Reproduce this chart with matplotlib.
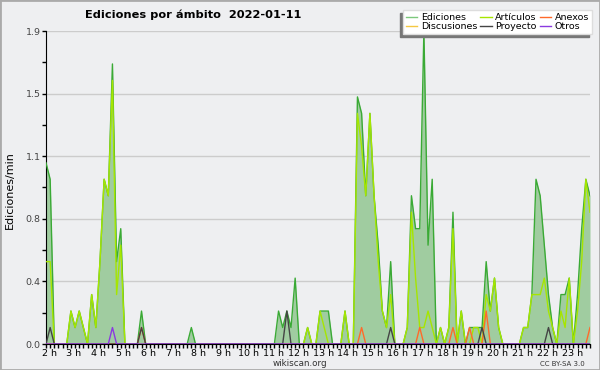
import numpy as np
import matplotlib
matplotlib.use("Agg")
import matplotlib.pyplot as plt
import matplotlib.transforms as mtransforms
from matplotlib.lines import Line2D
from matplotlib.patches import Rectangle

# Ediciones por minuto, tramos de 10 minutos desde las 2:00 hasta las 23:50
ediciones = [
    1.1, 1.0, 0, 0, 0, 0, 0.2, 0.1, 0.2, 0.1, 0, 0.3,
    0.1, 0.5, 1.0, 0.9, 1.7, 0.5, 0.7, 0, 0, 0, 0, 0.2,
    0, 0, 0, 0, 0, 0, 0, 0, 0, 0, 0, 0.1,
    0, 0, 0, 0, 0, 0, 0, 0, 0, 0, 0, 0,
    0, 0, 0, 0, 0, 0, 0, 0, 0.2, 0.1, 0.2, 0.1,
    0.4, 0, 0, 0.1, 0, 0, 0.2, 0.2, 0.2, 0, 0, 0,
    0.2, 0, 0, 1.5, 1.4, 0.9, 1.4, 0.9, 0.6, 0.2, 0.1, 0.5,
    0, 0, 0, 0.1, 0.9, 0.7, 0.7, 1.9, 0.6, 1.0, 0, 0.1,
    0, 0.1, 0.8, 0, 0.2, 0, 0.1, 0.1, 0.1, 0.1, 0.5, 0.2,
    0.4, 0.1, 0, 0, 0, 0, 0, 0.1, 0.1, 0.3, 1.0, 0.9,
    0.6, 0.3, 0.1, 0, 0.3, 0.3, 0.4, 0, 0.3, 0.7, 1.0, 0.9,
]
articulos = [
    0.5, 0.5, 0, 0, 0, 0, 0.2, 0.1, 0.2, 0.1, 0, 0.3,
    0.1, 0.5, 1.0, 0.9, 1.6, 0.3, 0.6, 0, 0, 0, 0, 0,
    0, 0, 0, 0, 0, 0, 0, 0, 0, 0, 0, 0,
    0, 0, 0, 0, 0, 0, 0, 0, 0, 0, 0, 0,
    0, 0, 0, 0, 0, 0, 0, 0, 0, 0, 0, 0,
    0, 0, 0, 0.1, 0, 0, 0.2, 0.1, 0, 0, 0, 0,
    0.2, 0, 0, 1.4, 1.2, 0.9, 1.4, 0.9, 0.5, 0.2, 0.1, 0.3,
    0, 0, 0, 0.1, 0.8, 0.4, 0.1, 0.1, 0.2, 0.1, 0, 0.1,
    0, 0.1, 0.7, 0, 0.2, 0, 0, 0.1, 0.1, 0, 0.3, 0.2,
    0.4, 0.1, 0, 0, 0, 0, 0, 0.1, 0.1, 0.3, 0.3, 0.3,
    0.4, 0.2, 0.1, 0, 0.2, 0.1, 0.4, 0, 0.2, 0.5, 1.0, 0.8,
]
# series casi vacias: tramo -> valor
anexos_tramos = [23, 76, 90, 98, 102, 106, 131]
anexos_vals = [0.1, 0.1, 0.1, 0.1, 0.1, 0.2, 0.1]
proyecto_tramos = [1, 23, 58, 83, 105, 121]
proyecto_vals = [0.1, 0.1, 0.2, 0.1, 0.1, 0.1]
otros_tramos = [16]
otros_vals = [0.1]
discusiones_tramos = []
discusiones_vals = []

ytick_pos = [0, 0.38, 0.76, 1.14, 1.52, 1.9]
ytick_labels = ["0.0", "0.4", "0.8", "1.1", "1.5", "1.9"]
horas = list(range(2, 24))

n = len(ediciones)
t = 2 + np.arange(n) / 6


def serie(tramos, vals):
    s = np.zeros(n)
    s[tramos] = vals
    return s


anexos = serie(anexos_tramos, anexos_vals)
proyecto = serie(proyecto_tramos, proyecto_vals)
otros = serie(otros_tramos, otros_vals)
discusiones = serie(discusiones_tramos, discusiones_vals)

bg = "#eeeff1"
fig = plt.figure(figsize=(6, 3.7), dpi=100, facecolor=bg)
ax = fig.add_axes([46 / 600, 1 - 344 / 370, 544 / 600, 313 / 370])
ax.set_facecolor(bg)

c_ed, c_art, c_dis = "#3aaa35", "#a6e600", "#f5c842"
c_anx, c_pro, c_otr = "#ff6a2a", "#444444", "#8a3ae0"

ax.fill_between(t, ediciones, 0, color="#a0cca0", lw=0, zorder=2)
ax.plot(t, ediciones, color=c_ed, lw=1.0, zorder=3)
ax.plot(t, articulos, color=c_art, lw=1.0, zorder=4)
ax.plot(t, discusiones, color=c_dis, lw=1.0, zorder=4)
ax.plot(t, anexos, color=c_anx, lw=1.0, zorder=5)
ax.plot(t, proyecto, color=c_pro, lw=1.0, zorder=5)
ax.plot(t, otros, color=c_otr, lw=1.0, zorder=5)

ax.set_xlim(t[0], t[-1])
ax.set_ylim(0, 1.9)
for s in ["top", "right"]:
    ax.spines[s].set_visible(False)
ax.spines["left"].set_color("black")
ax.spines["bottom"].set_color("black")

ax.set_yticks(ytick_pos)
ax.set_yticklabels(ytick_labels)
ax.set_yticks(np.arange(0.19, 1.9, 0.38), minor=True)
ax.set_xticks(horas)
ax.set_xticklabels([f"{h} h" for h in horas])
ax.set_xticks(t, minor=True)
ax.tick_params(axis="both", which="both", length=3, width=1, direction="out",
               labelsize=6.8, colors="black", pad=0.3)
ax.tick_params(axis="y", labelcolor="#444444", pad=1)
ax.grid(axis="y", color="#cccccc", lw=1, zorder=1)
ax.set_axisbelow(True)

# etiquetas de hora un poco a la derecha del tick
off = mtransforms.ScaledTranslation(3 / 100, 0, fig.dpi_scale_trans)
for lab in ax.get_xticklabels():
    lab.set_transform(lab.get_transform() + off)

fig.text(10 / 600, 1 - 190 / 370, "Ediciones/min", rotation=90,
         ha="center", va="center", fontsize=8)
fig.text(85 / 600, 1 - 15 / 370, "Ediciones por ámbito  2022-01-11",
         ha="left", va="center", fontsize=8.2, weight="bold")
fig.text(300 / 600, 1 - 363.5 / 370, "wikiscan.org", ha="center",
         va="center", fontsize=6.3, color="#333333")
fig.text(562 / 600, 1 - 363.5 / 370, "CC BY-SA 3.0", ha="center",
         va="center", fontsize=5, color="#333333")

handles = [
    Line2D([], [], color="#7cc87c", lw=1),
    Line2D([], [], color=c_dis, lw=1),
    Line2D([], [], color=c_art, lw=1),
    Line2D([], [], color=c_pro, lw=1),
    Line2D([], [], color=c_anx, lw=1),
    Line2D([], [], color=c_otr, lw=1),
]
labels = ["Ediciones", "Discusiones", "Artículos", "Proyecto", "Anexos", "Otros"]
leg = fig.legend(handles, labels, ncol=3, loc="upper right",
                 bbox_to_anchor=(592 / 600, 1 - 10 / 370), fontsize=6.8,
                 frameon=True, fancybox=False, framealpha=1,
                 facecolor="white", edgecolor="#dddddd",
                 handlelength=1.2, handletextpad=0.4, columnspacing=0.3,
                 labelspacing=0.05, borderpad=0.3, borderaxespad=0,
                 shadow={"ox": -2, "oy": -2, "color": "#777777", "alpha": 1})
leg.set_zorder(10)

fig.patches.append(Rectangle((0, 0), 1, 1, transform=fig.transFigure,
                             fill=False, edgecolor="#aaaaaa", lw=2))

fig.savefig("out.png", dpi=100, facecolor=bg)
